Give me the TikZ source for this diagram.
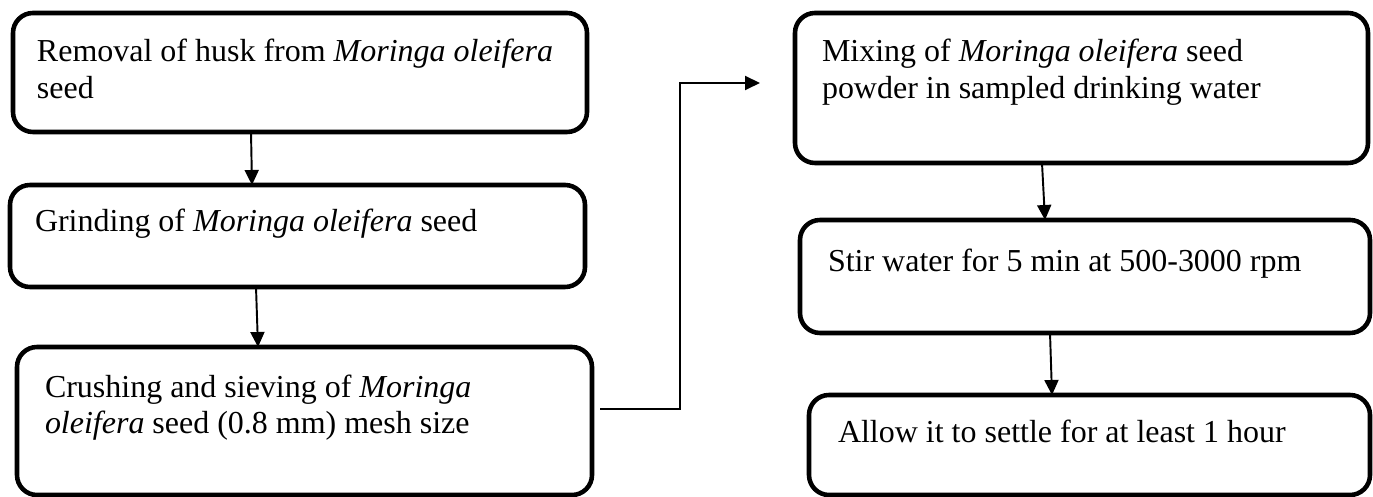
\documentclass[tikz,border=0pt]{standalone}
\usepackage{fontspec}
\setmainfont{Liberation Serif}
\usetikzlibrary{arrows.meta}

\begin{document}
\begin{tikzpicture}[line width=1pt,
        stepbox/.style={draw, line width=2.6pt, rounded corners=0.4cm, anchor=north west,
            outer sep=0pt, inner ysep=0pt, align=flush left, font=\fontsize{18.2pt}{21pt}\selectfont},
        flow/.style={-{Triangle[length=0.3cm, width=0.28cm]}, line width=1.1pt}]
            \useasboundingbox (0, 0) rectangle (27.46, -9.94);
            \node[stepbox, inner xsep=0.48cm, text width=10.52cm, text height=0.98cm, text depth=1.40cm]
                (removal) at (0.26, -0.26) {Removal of husk from \textit{Moringa oleifera}\\seed};
            \node[stepbox, inner xsep=0.50cm, text width=10.50cm, text height=0.94cm, text depth=1.10cm]
                (grinding) at (0.20, -3.70) {Grinding of \textit{Moringa oleifera} seed};
            \node[stepbox, inner xsep=0.56cm, text width=10.38cm, text height=1.00cm, text depth=1.96cm]
                (crushing) at (0.34, -6.94) {Crushing and sieving of \textit{Moringa}\\\textit{oleifera} seed (0.8 mm) mesh size};
            \node[stepbox, inner xsep=0.54cm, text width=10.38cm, text height=0.98cm, text depth=2.02cm]
                (mixing) at (15.90, -0.26) {Mixing of \textit{Moringa oleifera} seed\\powder in sampled drinking water};
            \node[stepbox, inner xsep=0.56cm, text width=10.28cm, text height=1.04cm, text depth=1.22cm]
                (stirring) at (16.00, -4.40) {Stir water for 5 min at 500-3000 rpm};
            \node[stepbox, inner xsep=0.58cm, text width=10.06cm, text height=0.94cm, text depth=1.06cm]
                (settling) at (16.18, -7.90) {Allow it to settle for at least 1 hour};
            \draw[flow] ([xshift=-0.98cm]removal.south) -- ([xshift=-0.91cm]grinding.north);
            \draw[flow] ([xshift=-0.83cm]grinding.south) -- ([xshift=-0.93cm]crushing.north);
            \draw[flow] ([xshift=-0.79cm]mixing.south) -- ([xshift=-0.80cm]stirring.north);
            \draw[flow] ([xshift=-0.70cm]stirring.south) -- ([xshift=-0.75cm]settling.north);
            \coordinate (mixin) at ([xshift=-0.70cm, yshift=0.10cm]mixing.west);
            \draw[flow] ([xshift=0.16cm, yshift=0.24cm]crushing.east) -- ++(1.6, 0) |- (mixin);
    \end{tikzpicture}
\end{document}
